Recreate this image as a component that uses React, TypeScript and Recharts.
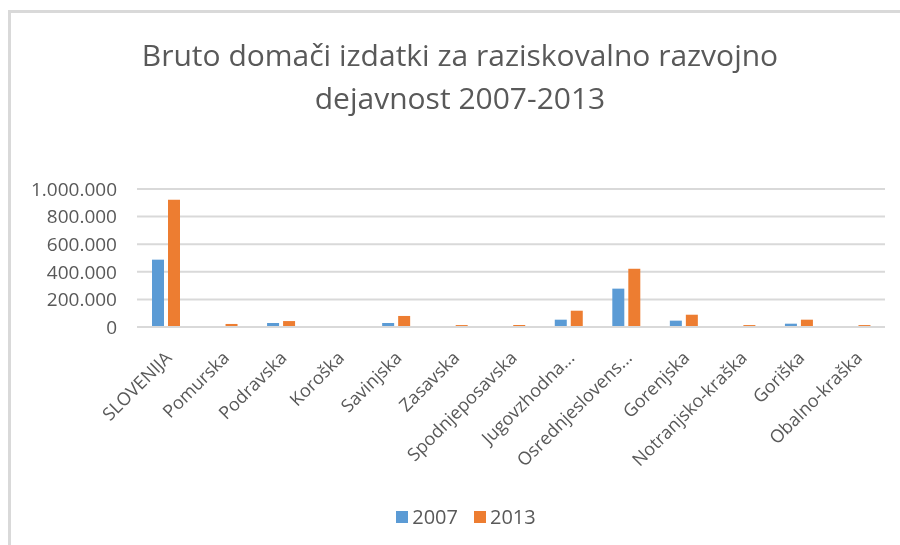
import React from 'react';
import { BarChart, Bar, XAxis, YAxis, CartesianGrid, Legend } from 'recharts';

const categories = [
  'SLOVENIJA', 'Pomurska', 'Podravska', 'Koroška', 'Savinjska', 'Zasavska',
  'Spodnjeposavska', 'Jugovzhodna...', 'Osrednjeslovens...', 'Gorenjska',
  'Notranjsko-kraška', 'Goriška', 'Obalno-kraška',
];
const values2007 = [488000, 0, 29000, 0, 29000, 0, 0, 53000, 278000, 46000, 0, 24000, 0];
const values2013 = [922000, 22000, 43000, 0, 80000, 14000, 14000, 118000, 422000, 89000, 14000, 53000, 14000];
const yTicks = [0, 200000, 400000, 600000, 800000, 1000000];
const seriesNames = ['2007', '2013'];

const data = categories.map((c, i) => ({ name: c, v2007: values2007[i], v2013: values2013[i] }));

const FONT = '"Open Sans", sans-serif';
const TEXT = '#595959';
const BLUE = '#5B9BD5';
const ORANGE = '#ED7D31';

const fmt = (v: number) => String(v).replace(/\B(?=(\d{3})+(?!\d))/g, '.');

const XTick = (props: any) => {
  const { x, y, payload } = props;
  return (
    <g transform={`translate(${x + 7},${y + 32})`}>
      <text x={0} y={0} textAnchor="end" transform="rotate(-45)" fill={TEXT} fontSize={18} fontFamily={FONT}>
        {payload.value}
      </text>
    </g>
  );
};

const LegendContent = () => (
  <div style={{ display: 'flex', justifyContent: 'center', alignItems: 'center', fontFamily: FONT, fontSize: 20, color: TEXT }}>
    {seriesNames.map((n, i) => (
      <div key={n} style={{ display: 'flex', alignItems: 'center', marginRight: i === 0 ? 16 : 0 }}>
        <span style={{ display: 'inline-block', width: 12, height: 12, background: i === 0 ? BLUE : ORANGE, marginRight: 4 }} />
        <span>{n}</span>
      </div>
    ))}
  </div>
);

export default function App() {
  return (
    <div style={{ position: 'relative', width: 892, height: 529 }}>
      <div style={{ position: 'fixed', left: 8, top: 10, width: 1200, height: 1200, borderLeft: '3px solid #d9d9d9', borderTop: '3px solid #d9d9d9', pointerEvents: 'none' }} />
      <div style={{ position: 'absolute', left: 0, top: 25, width: 904, textAlign: 'center', fontFamily: FONT, fontSize: 30, color: TEXT, lineHeight: '43px', zIndex: 2 }}>
        Bruto domači izdatki za raziskovalno razvojno<br />dejavnost 2007-2013
      </div>
      <BarChart width={892} height={529} data={data} margin={{ top: 181, right: 15, bottom: 0, left: 0 }} barGap={4}>
        <CartesianGrid vertical={false} stroke="#d9d9d9" strokeWidth={2} />
        <XAxis dataKey="name" height={210} interval={0} tickLine={false} tickSize={0} tickMargin={0} axisLine={{ stroke: '#d9d9d9', strokeWidth: 2 }} tick={<XTick />} />
        <YAxis width={129} domain={[0, 1000000]} ticks={yTicks} interval={0} axisLine={false} tickLine={false} tickSize={0} tickMargin={20} tickFormatter={fmt} tick={{ fill: TEXT, fontSize: 19, fontFamily: FONT }} />
        <Legend verticalAlign="middle" align="center" content={<LegendContent />} wrapperStyle={{ top: 495, left: -3, width: 922 }} />
        <Bar dataKey="v2007" name="2007" fill={BLUE} barSize={12} isAnimationActive={false} />
        <Bar dataKey="v2013" name="2013" fill={ORANGE} barSize={12} isAnimationActive={false} />
      </BarChart>
    </div>
  );
}
